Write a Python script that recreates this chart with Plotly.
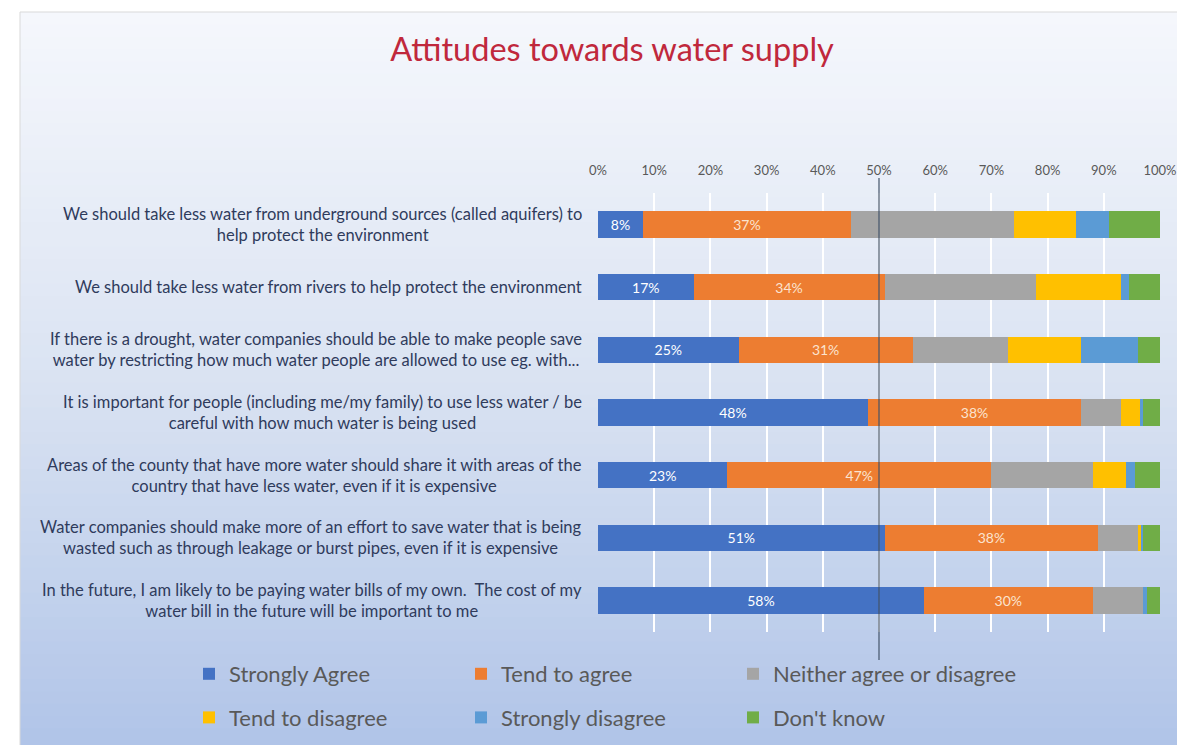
import plotly.graph_objects as go

# ----------------------------------
# Data
# ----------------------------------
statements = [
    "We should take less water from underground sources (called aquifers) to<br>help protect the environment",
    "We should take less water from rivers to help protect the environment",
    "If there is a drought, water companies should be able to make people save<br>water by restricting how much water people are allowed to use eg. with...",
    "It is important for people (including me/my family) to use less water / be<br>careful with how much water is being used",
    "Areas of the county that have more water should share it with areas of the<br>country that have less water, even if it is expensive",
    "Water companies should make more of an effort to save water that is being<br>wasted such as through leakage or burst pipes, even if it is expensive",
    "In the future, I am likely to be paying water bills of my own.  The cost of my<br>water bill in the future will be important to me",
]

strongly_agree = [8, 17, 25, 48, 23, 51, 58]
tend_to_agree = [37, 34, 31, 38, 47, 38, 30]
neither = [29, 27, 17, 7, 18, 7, 9]
tend_to_disagree = [11, 15, 13, 3.5, 6, 0.7, 0]
strongly_disagree = [6, 1.5, 10, 0.5, 1.5, 0.3, 0.7]
dont_know = [9, 5.5, 4, 3, 4.5, 3, 2.3]

series_names = [
    "Strongly Agree", "Tend to agree", "Neither agree or disagree",
    "Tend to disagree", "Strongly disagree", "Don't know",
]
series_values = [
    strongly_agree, tend_to_agree, neither,
    tend_to_disagree, strongly_disagree, dont_know,
]
colors = ["#4472C4", "#ED7D31", "#A5A5A5", "#FFC000", "#5B9BD5", "#70AD47"]
label_colors = ["#FFFFFF", "#FBE3CF", None, None, None, None]

x_ticks = list(range(0, 101, 10))

# ----------------------------------
# Layout constants (page pixels; the page body adds an 8px offset)
# ----------------------------------
W, H = 1185, 745
OFF = 8
PX0, PX1 = 598, 1160     # plot area left / right on the page
PY0, PY1 = 193, 632      # plot area top / bottom on the page
L, T = PX0 - OFF, PY0 - OFF
R, B = W - (PX1 - OFF), H - (PY1 - OFF)
PW, PH = PX1 - PX0, PY1 - PY0
FONT = "Lato, 'Open Sans', sans-serif"


def px_x(p):
    return (p - PX0) / PW


def px_y(p):
    return (PY1 - p) / PH


# legend columns: one vertical legend per column (two rows each)
legend_ids = ["legend", "legend2", "legend3"]

fig = go.Figure()

for i, (name, vals) in enumerate(zip(series_names, series_values)):
    show_text = label_colors[i] is not None
    fig.add_trace(
        go.Bar(
            y=statements,
            x=vals,
            name=name,
            orientation="h",
            marker=dict(color=colors[i], line=dict(width=0)),
            texttemplate="%{x:.0f}%" if show_text else None,
            textposition="inside" if show_text else "none",
            insidetextanchor="middle",
            textangle=0,
            textfont=dict(family=FONT, size=14, color=label_colors[i] or "#fff"),
            legend=legend_ids[i % 3],
            legendgroup=name,
            hoverinfo="x+name",
        )
    )

# ----------------------------------
# Background gradient (strips)
# ----------------------------------
shapes = []
top_c = (245, 247, 252)
mid_c = (218, 227, 242)
bot_c = (176, 196, 232)
n_strips = 60
y_top, y_bot = 12, H + OFF
for k in range(n_strips):
    f = k / (n_strips - 1)
    if f < 0.5:
        g = f / 0.5
        c = tuple(round(top_c[j] + (mid_c[j] - top_c[j]) * g) for j in range(3))
    else:
        g = (f - 0.5) / 0.5
        c = tuple(round(mid_c[j] + (bot_c[j] - mid_c[j]) * g) for j in range(3))
    p0 = y_top + (y_bot - y_top) * k / n_strips
    p1 = y_top + (y_bot - y_top) * (k + 1) / n_strips + 1
    shapes.append(dict(
        type="rect", xref="paper", yref="paper", layer="below",
        x0=px_x(20), x1=px_x(W + OFF), y0=px_y(p1), y1=px_y(p0),
        fillcolor="rgb(%d,%d,%d)" % c, line=dict(width=0),
    ))

# chart frame
shapes.append(dict(
    type="rect", xref="paper", yref="paper", layer="below",
    x0=px_x(20), x1=px_x(W + OFF + 2), y0=px_y(H + OFF + 2), y1=px_y(12),
    line=dict(color="#d9d9d9", width=1), fillcolor="rgba(0,0,0,0)",
))

# 50% reference line
shapes.append(dict(
    type="line", xref="x", yref="paper", x0=50, x1=50,
    y0=px_y(660), y1=px_y(178),
    line=dict(color="#44546A", width=1.2),
))

# ----------------------------------
# Category labels (centered multi-line)
# ----------------------------------
annotations = []
for s in statements:
    annotations.append(dict(
        x=px_x(584), xref="paper", y=s, yref="y",
        text=s, showarrow=False, xanchor="right", yanchor="middle",
        align="center",
        font=dict(family=FONT, size=16.5, color="#2F3B5C"),
    ))

legend_style = dict(
    orientation="v",
    xanchor="left",
    y=px_y(696),
    yanchor="middle",
    traceorder="grouped",
    tracegroupgap=12,
    bgcolor="rgba(0,0,0,0)",
    font=dict(family=FONT, size=22, color="#595959"),
    itemclick=False,
)
legend_x = [189, 461, 733]

fig.update_layout(
    width=W,
    height=H,
    margin=dict(l=L, r=R, t=T, b=B, pad=0),
    paper_bgcolor="white",
    plot_bgcolor="rgba(0,0,0,0)",
    barmode="stack",
    bargap=0.58,
    title=dict(
        text="Attitudes towards water supply",
        x=(612 - OFF) / W, xanchor="center", xref="container",
        y=1 - (50 - OFF) / H, yanchor="middle", yref="container",
        font=dict(family=FONT, size=32.5, color="#C0283C"),
    ),
    xaxis=dict(
        range=[0, 100],
        side="top",
        tickvals=x_ticks,
        ticktext=["%d%%" % v for v in x_ticks],
        showgrid=True,
        gridcolor="white",
        gridwidth=1.5,
        zeroline=False,
        showline=False,
        ticklabelstandoff=14,
        tickfont=dict(family=FONT, size=13, color="#595959"),
    ),
    yaxis=dict(
        autorange="reversed",
        showticklabels=False,
        showgrid=False,
        zeroline=False,
    ),
    legend=dict(legend_style, x=px_x(legend_x[0])),
    legend2=dict(legend_style, x=px_x(legend_x[1])),
    legend3=dict(legend_style, x=px_x(legend_x[2])),
    shapes=shapes,
    annotations=annotations,
    showlegend=True,
)

fig.write_html("out.html")
